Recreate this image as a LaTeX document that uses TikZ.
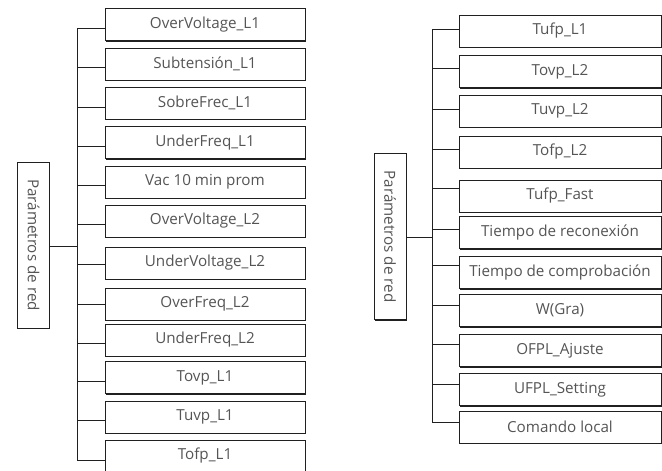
\documentclass[tikz,border=0pt]{standalone}
\usepackage{fontspec}
\usepackage{graphicx}
\setmainfont{Open Sans}
\usetikzlibrary{shadows}
\definecolor{txt}{HTML}{555555}
\definecolor{ln}{HTML}{202020}
\tikzset{
  px/.style={x=0.75pt,y=-0.75pt},
  itembox/.style={draw=ln, line width=0.7pt, fill=white, inner sep=0pt,
    minimum width=150pt, minimum height=24pt, text=txt, font=\fontsize{11.4}{13}\selectfont,
    drop shadow={shadow xshift=0.8pt, shadow yshift=-0.8pt, fill=ln, opacity=1}},
  rootbox/.style={draw=ln, line width=0.7pt, fill=white, inner sep=0pt,
    minimum width=23.5pt, minimum height=124.5pt, text=txt, font=\fontsize{11.4}{13}\selectfont,
    drop shadow={shadow xshift=0.8pt, shadow yshift=-0.8pt, fill=ln, opacity=1}},
  conn/.style={draw=ln, line width=0.75pt}
}
\begin{document}
\begin{tikzpicture}[px]
\useasboundingbox (0,0) rectangle (662,471);
\clip (0,0) rectangle (662,471);
% ---------- left tree ----------
\node[rootbox] (lr) at (33.5,245) {\rotatebox{-90}{Parámetros de red}};
\node[itembox] (l1) at (205,24.5) {OverVoltage\_L1};
\node[itembox] (l2) at (205,64) {Subtensión\_L1};
\node[itembox] (l3) at (205,103) {SobreFrec\_L1};
\node[itembox] (l4) at (205,142.5) {UnderFreq\_L1};
\node[itembox] (l5) at (205,182) {Vac 10 min prom};
\node[itembox] (l6) at (205,221) {OverVoltage\_L2};
\node[itembox] (l7) at (205,263) {UnderVoltage\_L2};
\node[itembox] (l8) at (205,304) {OverFreq\_L2};
\node[itembox] (l9) at (205,340) {UnderFreq\_L2};
\node[itembox] (l10) at (205,377.5) {Tovp\_L1};
\node[itembox] (l11) at (205,417) {Tuvp\_L1};
\node[itembox] (l12) at (205,456) {Tofp\_L1};
\coordinate (ltop) at (77,28);
\coordinate (lbot) at (77,460);
\coordinate (lmid) at (77,246);
\draw[conn] (ltop) -- (lbot);
\draw[conn] (lr.east |- lmid) -- (lmid);
\foreach \i/\y in {1/28,2/67,3/107,4/146,5/185,6/224,7/264,8/304,9/343,10/381,11/420,12/460}{
  \coordinate (lb\i) at (77,\y);
  \draw[conn] (lb\i) -- (lb\i -| l\i.west);
}
% ---------- right tree ----------
\node[rootbox, minimum height=125pt, minimum width=24pt] (rr) at (390,236.5) {\rotatebox{-90}{Parámetros de red}};
\node[itembox, minimum width=151.5pt] (r1) at (560,31) {Tufp\_L1};
\node[itembox, minimum width=151.5pt] (r2) at (560,71.5) {Tovp\_L2};
\node[itembox, minimum width=151.5pt] (r3) at (560,111) {Tuvp\_L2};
\node[itembox, minimum width=151.5pt] (r4) at (560,152) {Tofp\_L2};
\node[itembox, minimum width=151.5pt] (r5) at (560,196) {Tufp\_Fast};
\node[itembox, minimum width=151.5pt] (r6) at (560,232.5) {Tiempo de reconexión};
\node[itembox, minimum width=151.5pt] (r7) at (560,272.5) {Tiempo de comprobación};
\node[itembox, minimum width=151.5pt] (r8) at (560,310.5) {W(Gra)};
\node[itembox, minimum width=151.5pt] (r9) at (560,350.5) {OFPL\_Ajuste};
\node[itembox, minimum width=151.5pt] (r10) at (560,389.5) {UFPL\_Setting};
\node[itembox, minimum width=151.5pt] (r11) at (560,427) {Comando local};
\coordinate (rtop) at (432,29);
\coordinate (rbot) at (432,422);
\coordinate (rmid) at (432,237);
\draw[conn] (rtop) -- (rbot);
\draw[conn] (rr.east |- rmid) -- (rmid);
\foreach \i/\y in {1/29,2/68,3/109,4/149,5/188,6/229,7/265,8/305,9/344,10/384,11/422}{
  \coordinate (rb\i) at (432,\y);
  \draw[conn] (rb\i) -- (rb\i -| r\i.west);
}
\end{tikzpicture}
\end{document}
